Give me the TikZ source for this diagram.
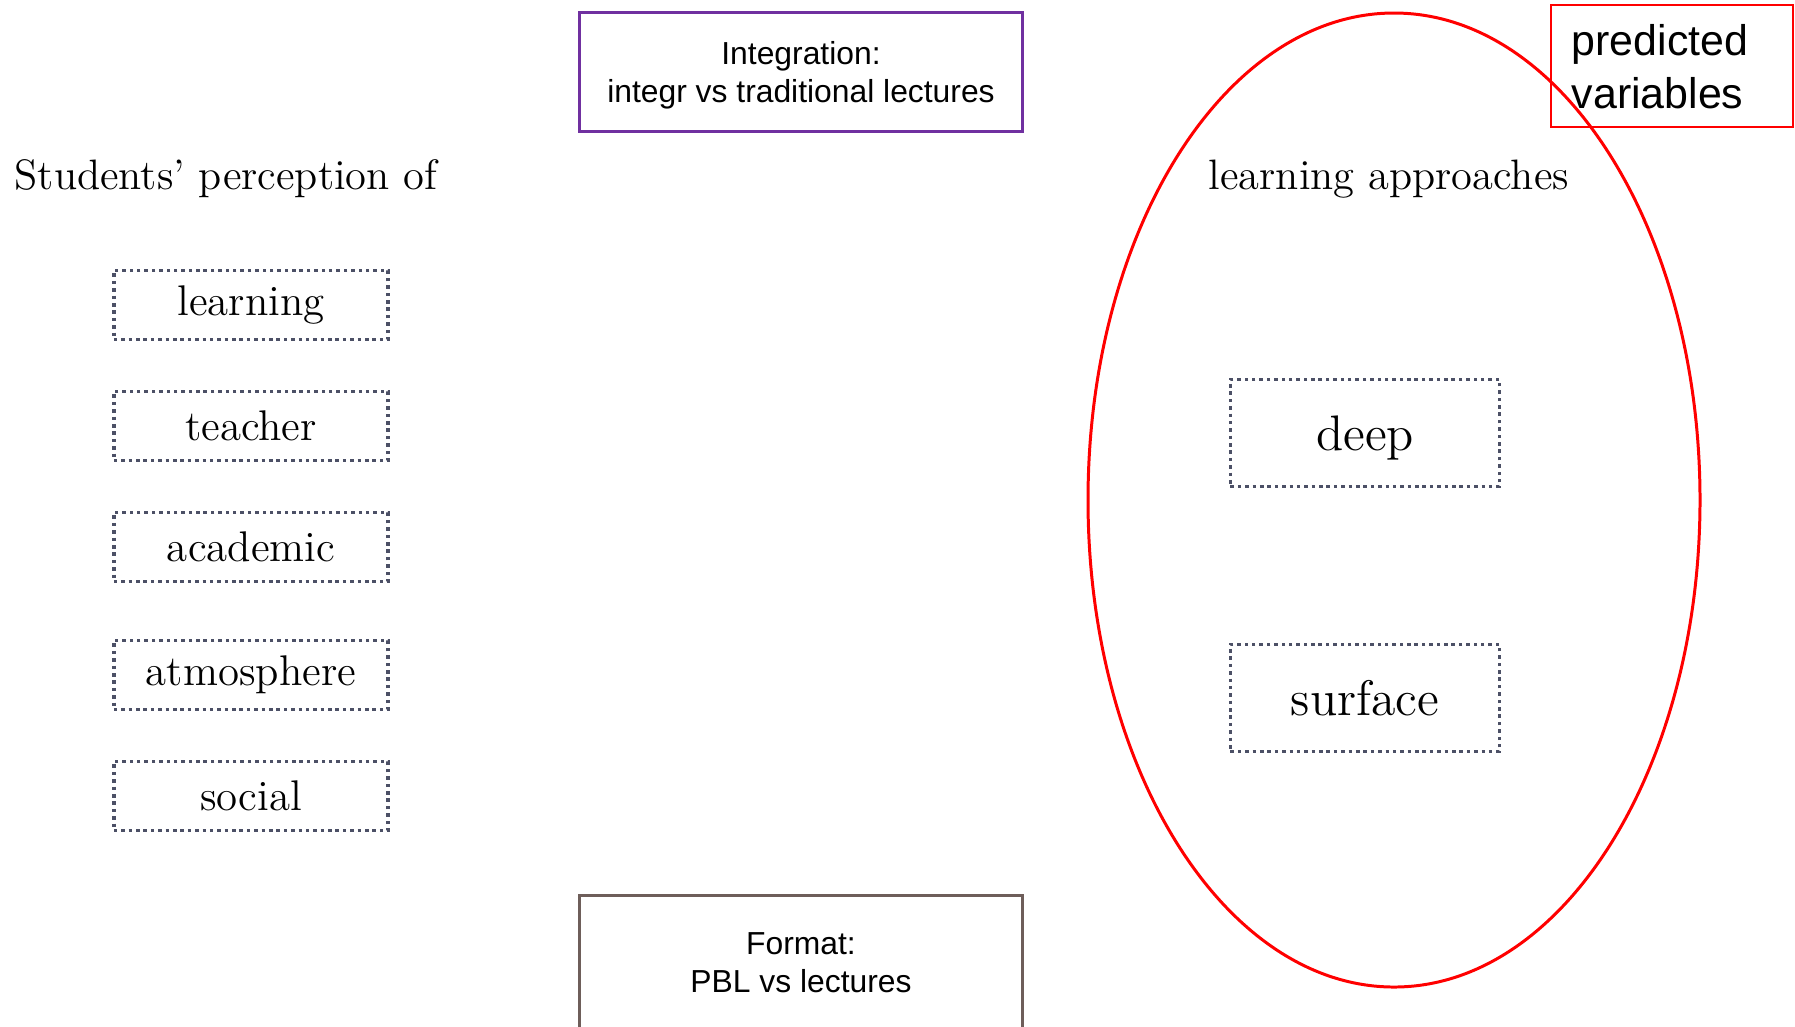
\documentclass[tikz,border=0pt]{standalone}
\usepackage{fontspec}
\newfontfamily\arialfont{Liberation Sans}
\usepackage{xcolor}
\usepackage{tikz}
\definecolor{purpleline}{HTML}{7030A0}
\definecolor{brownline}{HTML}{6E5E5A}
\definecolor{dotline}{HTML}{4C5066}
\definecolor{redline}{HTML}{FF0000}
\tikzset{
  factor/.style={draw, line width=0.85pt, minimum width=4.42cm, align=center,
    font=\arialfont\fontsize{9.05}{10.8}\selectfont},
  percbox/.style={draw=dotline, line width=1pt, dash pattern=on 1pt off 1.1pt,
    minimum width=2.74cm, minimum height=0.69cm, inner sep=0pt,
    font=\fontsize{12.2}{14}\selectfont},
  apprbox/.style={percbox, minimum width=2.69cm, minimum height=1.07cm,
    font=\fontsize{14.2}{16}\selectfont},
  head/.style={inner sep=0pt, font=\fontsize{12.1}{14}\selectfont},
}

\begin{document}
\begin{tikzpicture}[x=0.01cm, y=-0.01cm]
  \useasboundingbox (0,0) rectangle (1795,1026);

  % predictors
  \node[factor, draw=purpleline, minimum height=1.18cm, text depth=0pt] (integ) at (801,72)
    {Integration:\\integr vs traditional lectures};
  \node[factor, draw=brownline, minimum height=1.34cm] (fmt) at (801,963)
    {Format:\\PBL vs lectures};

  % perception
  \node[head, anchor=base west] (perc) at (14,189) {Students’ perception of};
  \node[percbox] (learn) at (251,305) {learning};
  \node[percbox] (teach) at (251,426) {teacher};
  \node[percbox] (acad)  at (251,547) {academic};
  \node[percbox] (atmo)  at (251,675) {atmosphere};
  \node[percbox] (soc)   at (251,796) {social};

  % outcome
  \draw[redline, line width=0.85pt] (1394,500) ellipse [x radius=306, y radius=487];
  \node[head, anchor=base west] (appr) at (1208,189) {learning approaches};
  \node[apprbox, text depth=0pt] (deep) at (1365,433) {deep};
  \node[apprbox] (surf) at (1365,698) {surface};

  \node[draw=redline, line width=0.45pt, minimum width=2.42cm, minimum height=1.22cm,
    inner sep=0pt] (pred) at (1672,66) {};
  \node[anchor=north west, align=left, inner sep=0pt,
    font=\arialfont\fontsize{12.2}{15}\selectfont] (predtxt) at (1571,24)
    {predicted\\variables};
\end{tikzpicture}
\end{document}
